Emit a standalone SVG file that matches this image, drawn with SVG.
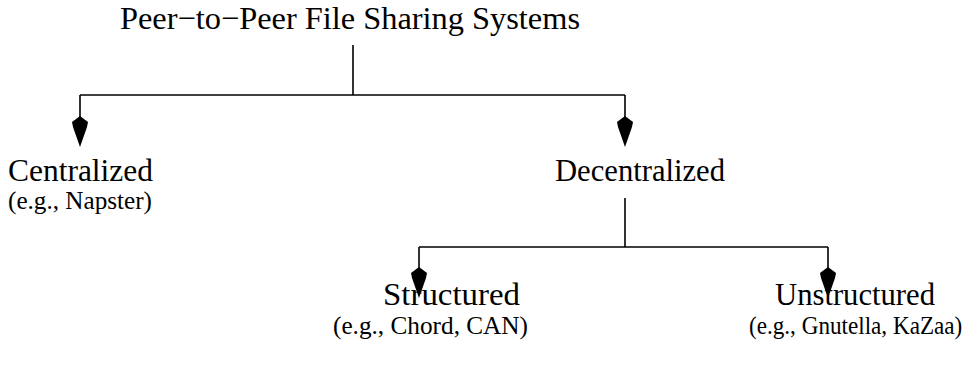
<svg xmlns="http://www.w3.org/2000/svg" width="970" height="375" viewBox="0 0 970 375">
  <defs>
    <style>
      .t { font-family: "Liberation Serif", "Times New Roman", serif; fill: #000; }
      .main { font-size: 32px; }
      .sub { font-size: 26px; }
      .wire { fill: none; stroke: #000; stroke-width: 1.6; }
      .tip { fill: #000; }
    </style>
    <!-- arrow tip, drawn with its point at the origin -->
    <polygon id="tip" class="tip" points="0,0 -7,-20 -8,-25 0,-31 8,-25 7,-20"/>
  </defs>
  <rect width="970" height="375" fill="#fff"/>

  <g id="connectors">
    <path class="wire" d="M353,45 V95 M80,95 H625 M80,95 V120 M625,95 V120"/>
    <use href="#tip" x="80" y="147"/>
    <use href="#tip" x="625" y="147"/>
    <path class="wire" d="M625,198 V247 M419,247 H828 M419,247 V272 M828,247 V272"/>
    <use href="#tip" x="419" y="298"/>
    <use href="#tip" x="828" y="298"/>
  </g>

  <g id="root">
    <text class="t main" x="120" y="29" textLength="460" lengthAdjust="spacingAndGlyphs">Peer−to−Peer File Sharing Systems</text>
  </g>
  <g id="centralized">
    <text class="t main" x="8" y="181" textLength="145" lengthAdjust="spacingAndGlyphs">Centralized</text>
    <text class="t sub" x="8" y="209" textLength="144" lengthAdjust="spacingAndGlyphs">(e.g., Napster)</text>
  </g>
  <g id="decentralized">
    <text class="t main" x="555" y="181" textLength="170" lengthAdjust="spacingAndGlyphs">Decentralized</text>
  </g>
  <g id="structured">
    <text class="t main" x="383" y="305" textLength="137" lengthAdjust="spacingAndGlyphs">Structured</text>
    <text class="t sub" x="333" y="334" textLength="195" lengthAdjust="spacingAndGlyphs">(e.g., Chord, CAN)</text>
  </g>
  <g id="unstructured">
    <text class="t main" x="775" y="305" textLength="160" lengthAdjust="spacingAndGlyphs">Unstructured</text>
    <!-- narrowed with a horizontal scale so the line stays inside the right edge -->
    <text class="t sub" transform="translate(749,334) scale(0.89,1)">(e.g., Gnutella, KaZaa)</text>
  </g>
</svg>
